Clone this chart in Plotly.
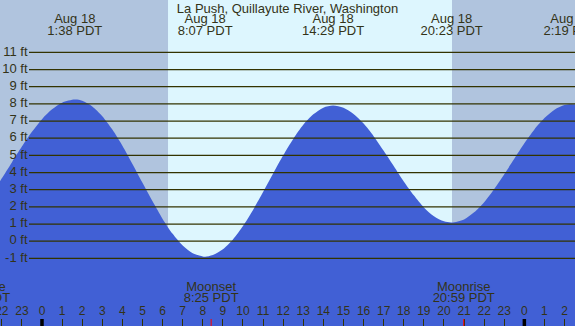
import plotly.graph_objects as go

# ---- data (hours from midnight Aug 18, heights in ft) ----
tide_times = [-2.1, -2, -1.5, -1, -0.5, 0, 0.5, 1, 1.633, 2, 2.5, 3, 3.5, 4, 4.5, 5, 5.5, 6, 6.5,
              7, 7.5, 8, 8.117, 8.5, 9, 9.5, 10, 10.5, 11, 11.5, 12, 12.5, 13, 13.5, 14, 14.483,
              15, 15.5, 16, 16.5, 17, 17.5, 18, 18.5, 19, 19.5, 20, 20.383, 21, 21.5, 22, 22.5,
              23, 23.5, 24, 24.5, 25, 25.5, 26, 26.317, 26.6]
tide_heights = [3.48, 3.66, 4.59, 5.51, 6.37, 7.11, 7.68, 8.07, 8.25, 8.18, 7.85, 7.28, 6.50, 5.56,
                4.50, 3.40, 2.32, 1.30, 0.43, -0.25, -0.70, -0.89, -0.90, -0.80, -0.47, 0.10, 0.88,
                1.82, 2.86, 3.94, 5.00, 5.96, 6.78, 7.39, 7.78, 7.90, 7.77, 7.41, 6.85, 6.12, 5.27,
                4.38, 3.48, 2.67, 1.97, 1.46, 1.16, 1.09, 1.27, 1.68, 2.27, 3.04, 3.90, 4.80, 5.70,
                6.51, 7.17, 7.66, 7.93, 7.98, 7.95]

extreme_times = [1.633, 8.117, 14.483, 20.383, 26.317]
extreme_dates = ["Aug 18", "Aug 18", "Aug 18", "Aug 18", "Aug 19"]
extreme_labels = ["1:38 PDT", "8:07 PDT", "14:29 PDT", "20:23 PDT", "2:19 PDT"]

moon_times = [-3.13, 8.417, 20.983]
moon_events = ["Moonrise", "Moonset", "Moonrise"]
moon_labels = ["20:52 PDT", "8:25 PDT", "20:59 PDT"]

sunrise = 6.27
sunset = 20.40

hours = list(range(-2, 27))
hour_labels = [str(h % 24) for h in hours]
ft_levels = list(range(-1, 12))
ft_labels = [f"{v} ft" for v in ft_levels]

title = "La Push, Quillayute River, Washington"

# ---- layout constants ----
W, H = 575, 326
X0, X1 = -2.09, 26.52
Y0, Y1 = -4.94, 14.05
px_per_ft = H / (Y1 - Y0)
px_per_hr = W / (X1 - X0)

def y_at_px(py):
    return Y1 - py / px_per_ft

def x_at_px(px):
    return X0 + px / px_per_hr

TXT = "#333318"
LINE = "#333300"
NIGHT = "#b0c4de"
DAY = "#ddf6fe"
WATER = "#4160d5"
FONT = "Liberation Sans, Arial, sans-serif"

fig = go.Figure()

# baseline for fill
fig.add_trace(go.Scatter(x=tide_times, y=[Y0 - 5] * len(tide_times), mode="lines",
                         line=dict(width=0, color=WATER), hoverinfo="skip", showlegend=False))
fig.add_trace(go.Scatter(x=tide_times, y=tide_heights, mode="lines",
                         line=dict(width=0, color=WATER, shape="spline", smoothing=0.8),
                         fill="tonexty", fillcolor=WATER, hoverinfo="skip", showlegend=False))

def text_trace(xs, ys, texts, size=13, pos="middle center"):
    fig.add_trace(go.Scatter(x=xs, y=ys, mode="text", text=texts, textposition=pos,
                             textfont=dict(family=FONT, size=size, color=TXT),
                             hoverinfo="skip", showlegend=False, cliponaxis=True))

# top extreme labels
text_trace(extreme_times, [y_at_px(20)] * len(extreme_times), extreme_dates)
text_trace(extreme_times, [y_at_px(31.5)] * len(extreme_times), extreme_labels)
# moon labels
text_trace(moon_times, [y_at_px(287.5)] * len(moon_times), moon_events)
text_trace(moon_times, [y_at_px(299)] * len(moon_times), moon_labels)
# hour labels
text_trace(hours, [y_at_px(311.5)] * len(hours), hour_labels, size=12)
# ft labels
text_trace([x_at_px(27.5)] * len(ft_levels), ft_levels, ft_labels, pos="middle left")

shapes = []
# daylight band
shapes.append(dict(type="rect", xref="x", yref="paper", x0=sunrise, x1=sunset, y0=0, y1=1,
                   fillcolor=DAY, line=dict(width=0), layer="below"))
# grid lines
for v in ft_levels:
    shapes.append(dict(type="line", xref="paper", yref="y", x0=29 / W, x1=1, y0=v, y1=v,
                       line=dict(color=LINE, width=1.2), layer="above"))
# midnight ticks
for m in [0, 24]:
    shapes.append(dict(type="line", xref="x", yref="paper", x0=m, x1=m, y0=0, y1=7 / H,
                       line=dict(color="#000000", width=3.5), layer="above"))
# moon event ticks
for t in moon_times:
    shapes.append(dict(type="line", xref="x", yref="paper", x0=t, x1=t, y0=0, y1=7 / H,
                       line=dict(color="#ff0000", width=1), layer="above"))

fig.update_layout(
    width=W, height=H,
    margin=dict(l=0, r=0, t=0, b=0),
    paper_bgcolor=NIGHT, plot_bgcolor=NIGHT,
    shapes=shapes,
    title=dict(text=title, x=0.5, xanchor="center", y=1 - 8 / H, yanchor="middle",
               font=dict(family=FONT, size=13, color=TXT)),
    xaxis=dict(range=[X0, X1], showgrid=False, zeroline=False, showticklabels=False,
               ticks="inside", tickvals=hours, ticklen=7, tickwidth=1, tickcolor=LINE,
               showline=False, fixedrange=True),
    yaxis=dict(range=[Y0, Y1], visible=False, fixedrange=True),
    showlegend=False,
)

fig.write_html("out.html", config={"displayModeBar": False},
               post_script="document.body.style.margin='0';document.body.style.overflow='hidden';")
